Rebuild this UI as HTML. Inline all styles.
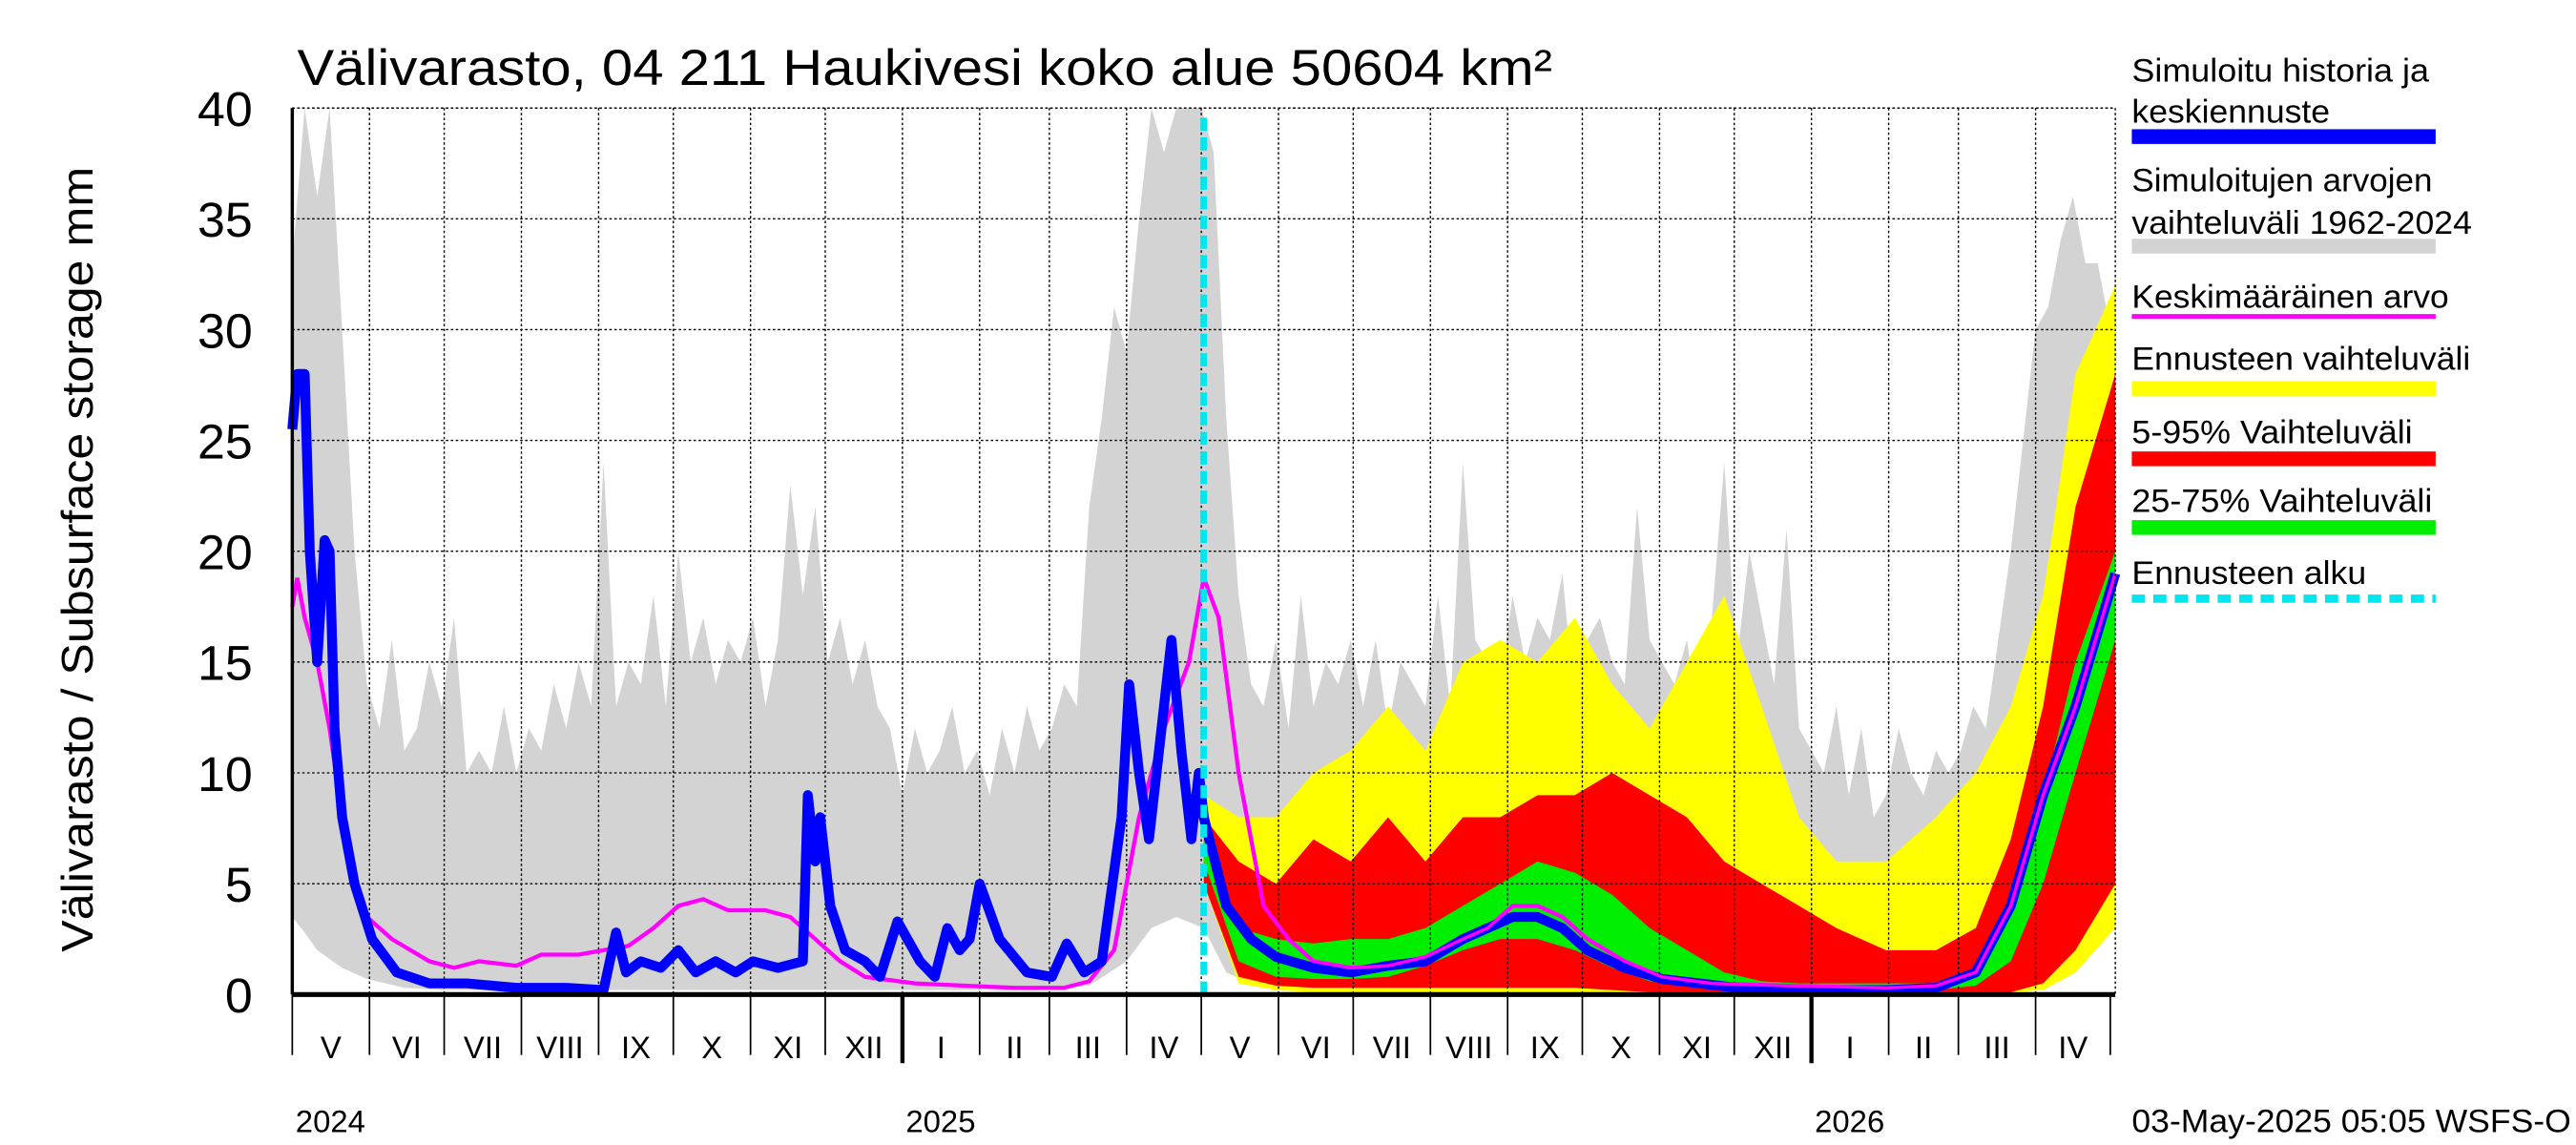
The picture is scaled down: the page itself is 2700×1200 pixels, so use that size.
<!DOCTYPE html>
<html><head><meta charset="utf-8"><style>
html,body{margin:0;padding:0;background:#fff;}
svg{display:block;font-family:"Liberation Sans",sans-serif;}
</style></head><body>
<svg id="chart" width="2700" height="1200" viewBox="0 0 1560 700" preserveAspectRatio="none" xmlns="http://www.w3.org/2000/svg">
<g id="fills"></g><g id="grid"></g><g id="lines"></g><g id="axes"></g>
<text x="180" y="52" font-size="31" textLength="760" lengthAdjust="spacingAndGlyphs">Välivarasto, 04 211 Haukivesi koko alue 50604 km²</text>
<text transform="translate(56,582) rotate(-90)" font-size="27" textLength="480" lengthAdjust="spacingAndGlyphs">Välivarasto / Subsurface storage  mm</text>
<g id="legend" font-size="20">
<text x="1291" y="50" textLength="180" lengthAdjust="spacingAndGlyphs">Simuloitu historia ja</text>
<text x="1291" y="75" textLength="120" lengthAdjust="spacingAndGlyphs">keskiennuste</text>
<rect x="1291" y="79" width="184" height="9" fill="#0000ff"/>
<text x="1291" y="117" textLength="182" lengthAdjust="spacingAndGlyphs">Simuloitujen arvojen</text>
<text x="1291" y="143" textLength="206" lengthAdjust="spacingAndGlyphs">vaihteluväli 1962-2024</text>
<rect x="1291" y="146" width="184" height="9" fill="#d3d3d3"/>
<text x="1291" y="188" textLength="192" lengthAdjust="spacingAndGlyphs">Keskimääräinen arvo</text>
<rect x="1291" y="192" width="184" height="3" fill="#ff00ff"/>
<text x="1291" y="226" textLength="205" lengthAdjust="spacingAndGlyphs">Ennusteen vaihteluväli</text>
<rect x="1291" y="233" width="184" height="9" fill="#ffff00"/>
<text x="1291" y="271" textLength="170" lengthAdjust="spacingAndGlyphs">5-95% Vaihteluväli</text>
<rect x="1291" y="276" width="184" height="9" fill="#ff0000"/>
<text x="1291" y="313" textLength="182" lengthAdjust="spacingAndGlyphs">25-75% Vaihteluväli</text>
<rect x="1291" y="318" width="184" height="9" fill="#00ee00"/>
<text x="1291" y="357" textLength="142" lengthAdjust="spacingAndGlyphs">Ennusteen alku</text>
<line x1="1291" y1="366" x2="1475" y2="366" stroke="#00e5ee" stroke-width="5" stroke-dasharray="8,5"/>
</g>
<text x="1291" y="692" font-size="20" textLength="266" lengthAdjust="spacingAndGlyphs">03-May-2025 05:05 WSFS-O</text>
</svg>
<script>
const grayMax=[33,40,36,40,30,20,14,12,16,11,12,15,13,
17,10,11,10,13,10,12,11,14,12,15,13,
24,13,15,14,18,13,20,15,17,14,16,15,
17,13,16,23,18,22,15,17,14,16,13,12,
9,12,10,11,13,10,11,9,12,10,13,11,
12,14,13,22,26,31,29,35,40,38,40,40,40,
38,26,18,14,13,16,12,18,13,15,14,16,
13,16,12,15,14,13,18,13,24,16,15,14,
18,15,17,16,19,13,16,17,15,14,22,16,
15,14,16,12,17,24,15,20,17,14,21,12,
11,10,13,9,12,8,9,12,10,9,11,10,
11,13,12,16,20,25,30,31,34,36,33,33,30];
const grayMaxStep=5;
const grayMinDays=[0,5,10,20,30,45,60,300,320,335,345,355,366,375,385,400,420,700,715,732];
const grayMin=[3.5,2.8,2,1.2,0.7,0.3,0.2,0.2,0.4,1.5,3,3.5,3,1,0.5,0.3,0.2,0.2,1.5,3];
const fcDays=[366,380,395,410,425,440,455,470,485,500,515,530,545,560,575,590,605,620,640,660,676,690,703,716,732];
const yellowMax=[9,8,8,10,11,13,11,15,16,15,17,14,12,15,18,13,8,6,6,8,10,13,18,28,32];
const yellowMin=[5,0.5,0.2,0.1,0.1,0.1,0.1,0.1,0.1,0.1,0.1,0.1,0.1,0.1,0.1,0.1,0.1,0.1,0.1,0.1,0.1,0.1,0.2,1,3];
const red95=[8,6,5,7,6,8,6,8,8,9,9,10,9,8,6,5,4,3,2,2,3,7,13,22,28];
const red5=[5,0.8,0.4,0.3,0.3,0.3,0.3,0.3,0.3,0.3,0.3,0.2,0.1,0.1,0.1,0.1,0.1,0.1,0.1,0.1,0.1,0.1,0.5,2,5];
const green75=[7,3,2.5,2.3,2.5,2.5,3,4,5,6,5.5,4.5,3,2,1,0.6,0.5,0.5,0.5,0.5,1,4,9,15,20];
const green25=[6,1.5,0.8,0.7,0.7,0.8,1.3,2,2.5,2.5,2,1.2,0.6,0.4,0.3,0.2,0.2,0.2,0.2,0.2,0.4,1.5,5,10,16];
const blueDays=[0,2,5,7,10,13,15,17,20,25,32,42,55,70,90,110,125,130,134,140,148,155,162,170,178,185,195,205,207,210,212,216,222,230,236,243,252,258,263,268,272,276,284,295,305,311,318,325,333,336,340,344,349,353,357,361,364,366,375,385,395,410,425,440,455,470,480,490,500,510,520,535,550,565,580,600,620,640,660,676,690,703,716,732];
const blueVals=[25.5,28,28,20,15,20.5,20,12,8,5,2.5,1,0.5,0.5,0.3,0.3,0.2,2.8,1,1.5,1.2,2,1,1.5,1,1.5,1.2,1.5,9,6,8,4,2,1.5,0.8,3.3,1.5,0.8,3,2,2.5,5,2.5,1,0.8,2.3,1,1.5,8,14,10,7,12,16,11,7,10,8,4,2.5,1.7,1.2,1,1.3,1.5,2.5,3,3.5,3.5,3,2,1.2,0.7,0.5,0.3,0.2,0.2,0.2,0.3,1,4,9,13,19];
const meanDays=[0,2,5,10,15,20,25,30,40,55,65,75,90,100,115,125,135,145,155,165,175,190,200,210,220,230,250,270,290,310,320,330,340,350,360,366,372,380,390,400,410,425,440,455,470,480,490,500,510,520,535,550,570,600,640,660,676,690,703,716,732];
const meanVals=[17.5,18.8,17,15,12,8,5,3.5,2.5,1.5,1.2,1.5,1.3,1.8,1.8,2,2.2,3,4,4.3,3.8,3.8,3.5,2.5,1.5,0.8,0.5,0.4,0.3,0.3,0.6,2,8,12,15,18.8,17,10,4,2.5,1.5,1.2,1.3,1.7,2.5,3,4,4,3.5,2.5,1.5,0.8,0.5,0.4,0.3,0.4,1,4,9,13,19];
const yTicks=[0,5,10,15,20,25,30,35,40];
const monthNames=["I","II","III","IV","V","VI","VII","VIII","IX","X","XI","XII"];
const forecastDay=366;

const X0=177,X1=1281,Y0=608,Y1=66,NDAYS=732;
const xs=d=>X0+d*(X1-X0)/NDAYS;
const ys=v=>Y0-v*(Y0-Y1)/40;
const NS="http://www.w3.org/2000/svg";
function mk(tag,parent){const e=document.createElementNS(NS,tag);document.getElementById(parent).appendChild(e);return e;}
function pts(days,vals){return days.map((d,i)=>xs(Math.min(d,NDAYS)).toFixed(1)+","+ys(vals[i]).toFixed(1));}
function band(days,hi,days2,lo,color,name){
 const p=mk("polygon","fills");
 
 
 const a=pts(days,hi), b=pts(days2,lo).reverse();
 p.setAttribute("points",a.concat(b).join(" "));p.setAttribute("fill",color);
}
const grayMaxDays=grayMax.map((v,i)=>i*grayMaxStep);
band(grayMaxDays,grayMax,grayMinDays,grayMin,"#d3d3d3","history-range-band");
band(fcDays,yellowMax,fcDays,yellowMin,"#ffff00","forecast-range-band");
band(fcDays,red95,fcDays,red5,"#ff0000","band-5-95");
band(fcDays,green75,fcDays,green25,"#00ee00","band-25-75");
yTicks.forEach(v=>{
 if(v>0){const l=mk("line","grid");
 
 
 l.setAttribute("x1",X0);l.setAttribute("x2",X1);l.setAttribute("y1",ys(v));l.setAttribute("y2",ys(v));
 l.setAttribute("stroke","#000");l.setAttribute("stroke-width","0.8");l.setAttribute("stroke-dasharray","1.5,1.5");}
 const t=mk("text","axes");
 
 
 t.setAttribute("x",153);t.setAttribute("y",ys(v)+11);t.setAttribute("text-anchor","end");t.setAttribute("font-size","30");
 t.textContent=v;
});
const start=Date.UTC(2024,4,1);
const bounds=[];
for(let m=0;m<=24;m++){const dt=new Date(Date.UTC(2024,4+m,1));bounds.push({d:(dt-start)/864e5,mon:dt.getUTCMonth(),yr:dt.getUTCFullYear()});}
bounds.forEach((b,i)=>{
 const x=xs(b.d);
 if(i>0&&i<24){const g=mk("line","grid");
  
  
  g.setAttribute("x1",x);g.setAttribute("x2",x);g.setAttribute("y1",Y1);g.setAttribute("y2",Y0);
  g.setAttribute("stroke","#000");g.setAttribute("stroke-width","0.8");g.setAttribute("stroke-dasharray","1.5,1.5");}
 const tk=mk("line","axes");
 
 
 const yr=b.mon===0;
 tk.setAttribute("x1",x);tk.setAttribute("x2",x);tk.setAttribute("y1",Y0);tk.setAttribute("y2",yr?650:645);
 tk.setAttribute("stroke","#000");tk.setAttribute("stroke-width",yr?"2.5":"1");
 if(i<24){const t=mk("text","axes");
  
  
  const xm=(x+xs(bounds[i+1].d))/2;
  t.setAttribute("x",xm);t.setAttribute("y",647);t.setAttribute("text-anchor","middle");t.setAttribute("font-size","19");
  t.textContent=monthNames[b.mon];}
 if(i===0||yr){const t=mk("text","axes");
  
  
  t.setAttribute("x",x+2);t.setAttribute("y",692);t.setAttribute("font-size","19");t.textContent=b.yr;}
});
[[X0,Y1,X0,Y0,"2",""],[X0,Y1,X1,Y1,"0.8","1.5,1.5"],[X1,Y1,X1,Y0,"0.8","1.5,1.5"],[X0,Y0,X1,Y0,"3",""]].forEach(a=>{
 const l=mk("line","axes");
 
 
 l.setAttribute("x1",a[0]);l.setAttribute("y1",a[1]);l.setAttribute("x2",a[2]);l.setAttribute("y2",a[3]);
 l.setAttribute("stroke","#000");l.setAttribute("stroke-width",a[4]);if(a[5])l.setAttribute("stroke-dasharray",a[5]);
});
const mean=mk("polyline","lines");


mean.setAttribute("points",pts(meanDays,meanVals).join(" "));mean.setAttribute("fill","none");mean.setAttribute("stroke","#ff00ff");mean.setAttribute("stroke-width","2.5");
const blue=mk("polyline","lines");


blue.setAttribute("points",pts(blueDays,blueVals).join(" "));blue.setAttribute("fill","none");blue.setAttribute("stroke","#0000ff");blue.setAttribute("stroke-width","6");blue.setAttribute("stroke-linejoin","round");
const mean2=mk("polyline","lines");


const fi=meanDays.indexOf(forecastDay);
mean2.setAttribute("points",pts(meanDays.slice(fi),meanVals.slice(fi)).join(" "));mean2.setAttribute("fill","none");mean2.setAttribute("stroke","#ff00ff");mean2.setAttribute("stroke-width","2");
const fc=mk("line","lines");


fc.setAttribute("x1",xs(forecastDay));fc.setAttribute("x2",xs(forecastDay));fc.setAttribute("y1",Y1+6);fc.setAttribute("y2",Y0);
fc.setAttribute("stroke","#00e5ee");fc.setAttribute("stroke-width","4");fc.setAttribute("stroke-dasharray","8,4");
</script>
</body></html>
